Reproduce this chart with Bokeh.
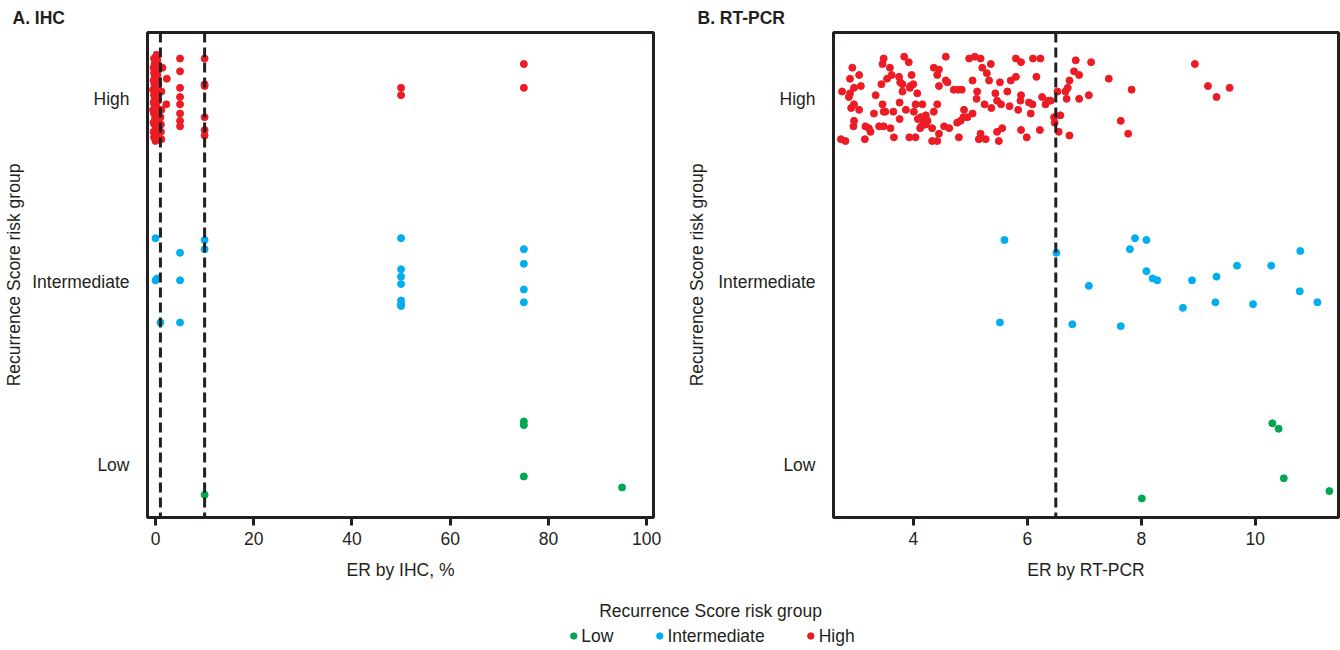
from bokeh.plotting import figure
from bokeh.layouts import column, row
from bokeh.models import Span, Legend, LegendItem, FixedTicker
from bokeh.embed import file_html
from bokeh.resources import INLINE

FONT = "Liberation Sans"
TXT = "#231F20"
RED = "#ED1C24"
BLUE = "#00AEEF"
GREEN = "#00A651"

level_ticks = [1, 2, 3]
level_labels = {1: "Low", 2: "Intermediate", 3: "High"}

ihc_ticks = [0, 20, 40, 60, 80, 100]
pcr_ticks = [4, 6, 8, 10]
ihc_cutoffs = [1, 10]
pcr_cutoffs = [6.5]

# (ER value, jittered position on the risk-group axis)
ihc_high = [
    (0.2, 3.24), (-0.3, 3.22), (0.4, 3.21), (-0.2, 3.19), (0.1, 3.19), (-0.4, 3.17),
    (0.3, 3.16), (0.0, 3.16), (-0.3, 3.14), (0.4, 3.13), (-0.1, 3.12), (0.2, 3.12),
    (-0.4, 3.10), (0.1, 3.09), (0.5, 3.08), (-0.2, 3.08), (0.3, 3.06), (-0.5, 3.05),
    (0.0, 3.04), (0.4, 3.03), (-0.3, 3.02), (0.2, 3.01), (-0.1, 3.00), (0.5, 2.99),
    (-0.4, 2.98), (0.1, 2.97), (-0.2, 2.97), (0.3, 2.95), (-0.5, 2.94), (0.0, 2.93),
    (0.4, 2.92), (-0.3, 2.92), (0.2, 2.90), (-0.1, 2.89), (0.5, 2.88), (-0.4, 2.87),
    (0.1, 2.86), (-0.2, 2.86), (0.3, 2.84), (0.0, 2.83), (-0.4, 2.82), (0.2, 2.81),
    (-0.1, 2.80), (0.4, 2.79), (-0.3, 2.79), (0.1, 2.78), (0.0, 2.77),
    (1.4, 3.17), (2.3, 3.11), (1.2, 3.04), (2.2, 2.97), (1.1, 2.86), (1.1, 2.82),
    (1.2, 2.78), (1.2, 2.94), (1.0, 2.90),
    (5, 3.22), (5, 3.15), (5, 3.06), (5, 3.01), (5, 2.97), (5, 2.92), (5, 2.88), (5, 2.85),
    (10, 3.22), (10, 3.08), (10, 3.07), (10, 2.90), (10, 2.83), (10, 2.80),
    (50, 3.06), (50, 3.02),
    (75, 3.19), (75, 3.06),
]
ihc_int = [
    (0, 2.24), (10, 2.23), (10, 2.18), (5, 2.16), (0, 2.01), (0.3, 2.02), (5, 2.01),
    (1, 1.78), (5, 1.78), (50, 2.24), (50, 2.07), (50, 2.03), (50, 1.99), (50, 1.90),
    (50, 1.88), (50, 1.87), (75, 2.18), (75, 2.10), (75, 1.96), (75, 1.89),
]
ihc_low = [(75, 1.24), (75, 1.22), (75, 0.94), (10, 0.84), (95, 0.88)]

pcr_high = [
    (2.75, 3.04), (2.73, 2.78), (2.81, 2.77), (2.93, 3.17), (2.89, 3.11), (3.05, 3.13),
    (2.96, 3.06), (3.08, 3.07), (2.89, 3.03), (2.87, 3.01), (2.96, 2.97), (2.91, 2.95),
    (3.05, 2.94), (2.96, 2.88), (2.95, 2.85), (3.16, 2.85), (3.22, 2.84), (3.25, 2.82),
    (3.15, 2.78), (3.34, 3.02), (3.31, 2.92), (3.40, 2.85), (3.48, 2.85), (3.60, 2.84),
    (3.46, 2.97), (3.48, 2.93), (3.51, 2.93), (3.66, 2.79), (3.48, 3.22), (3.46, 3.19),
    (3.59, 3.17), (3.44, 3.08), (3.54, 3.11), (3.62, 3.13), (3.65, 2.93), (3.75, 3.12),
    (3.77, 3.09), (3.81, 3.08), (3.81, 3.04), (3.76, 2.98), (3.76, 2.89), (3.84, 3.23),
    (3.92, 3.20), (3.97, 3.13), (3.95, 3.07), (4.00, 3.08), (3.94, 3.06), (4.07, 3.03),
    (3.87, 2.94), (4.04, 2.97), (4.16, 2.97), (4.01, 2.93), (3.93, 2.79), (4.04, 2.79),
    (4.13, 2.90), (4.22, 2.91), (4.08, 2.89), (4.18, 2.88), (4.25, 2.88), (4.14, 2.85),
    (4.12, 2.84), (4.22, 2.86), (4.33, 2.84), (4.33, 2.77), (4.42, 2.77), (4.45, 2.81),
    (4.36, 2.93), (4.42, 2.97), (4.36, 3.17), (4.45, 3.16), (4.42, 3.13), (4.45, 3.07),
    (4.57, 3.23), (4.57, 3.10), (4.60, 3.09), (4.54, 2.85), (4.63, 2.84), (4.71, 3.05),
    (4.79, 3.05), (4.85, 3.05), (4.80, 2.79), (4.77, 2.87), (4.83, 2.88), (4.88, 2.90),
    (4.89, 2.94), (4.95, 2.90), (5.04, 2.92), (4.98, 3.22), (5.08, 3.23), (5.18, 3.22),
    (5.04, 3.10), (5.12, 3.04), (5.11, 3.00), (5.21, 3.17), (5.29, 3.14), (5.33, 3.10),
    (5.36, 3.19), (5.25, 2.97), (5.37, 2.95), (5.18, 2.81), (5.15, 2.78), (5.27, 2.78),
    (5.47, 2.82), (5.56, 2.84), (5.50, 2.77), (5.44, 3.03), (5.52, 3.09), (5.47, 2.99),
    (5.54, 2.97), (5.65, 3.04), (5.69, 2.96), (5.71, 3.10), (5.80, 3.12), (5.80, 3.22),
    (5.89, 3.20), (5.89, 3.02), (5.88, 2.99), (5.84, 2.94), (6.03, 2.98), (6.09, 2.97),
    (6.06, 2.92), (5.89, 2.83), (5.99, 2.79), (6.10, 3.22), (6.23, 3.22), (6.16, 3.12),
    (6.26, 3.01), (6.32, 2.97), (6.37, 2.99), (6.22, 2.83),
    (6.85, 3.21), (7.12, 3.20), (6.82, 3.15), (6.91, 3.13), (6.74, 3.10), (6.53, 3.04),
    (6.67, 3.04), (6.71, 3.06), (6.69, 3.00), (6.91, 3.00), (7.08, 3.02), (6.41, 2.99),
    (7.43, 3.11), (7.83, 3.05), (8.94, 3.19), (9.17, 3.07), (9.32, 3.01), (9.55, 3.06),
    (6.47, 2.90), (6.58, 2.91), (6.48, 2.87), (7.64, 2.88), (6.55, 2.82), (6.74, 2.80),
    (7.77, 2.81),
]
pcr_int = [
    (5.60, 2.23), (6.51, 2.16), (7.08, 1.98), (5.52, 1.78), (6.79, 1.77), (7.64, 1.76),
    (7.89, 2.24), (8.09, 2.23), (7.80, 2.18), (8.09, 2.06), (8.20, 2.02), (8.28, 2.01),
    (8.89, 2.01), (9.32, 2.03), (9.68, 2.09), (10.28, 2.09), (10.79, 2.17), (10.78, 1.95),
    (11.09, 1.89), (8.73, 1.86), (9.30, 1.89), (9.96, 1.88),
]
pcr_low = [(10.30, 1.23), (10.41, 1.20), (10.50, 0.93), (11.30, 0.86), (8.01, 0.82)]

FS = "17.5px"
PANEL_H = 597


def xs_of(pts):
    return [a for a, _ in pts]


def ys_of(pts):
    return [b for _, b in pts]


def make_panel(title, xlabel, xr, ticks, cutoffs, groups, width, bl, br, title_off, ylab_standoff):
    p = figure(width=width, height=PANEL_H, x_range=xr, y_range=(0.716, 3.362),
               toolbar_location=None, output_backend="svg",
               min_border_left=bl, min_border_right=br,
               min_border_top=32, min_border_bottom=PANEL_H - 517, title=title)
    p.background_fill_color = "white"
    p.border_fill_color = "white"
    p.title.align = "left"
    p.title.offset = title_off
    p.title.standoff = 9
    p.title.text_font = FONT
    p.title.text_font_size = FS
    p.title.text_font_style = "bold"
    p.title.text_color = TXT
    p.grid.visible = False
    p.outline_line_color = TXT
    p.outline_line_width = 3

    xa = p.xaxis[0]
    xa.ticker = FixedTicker(ticks=ticks)
    xa.axis_label = xlabel
    xa.axis_line_color = None
    xa.major_tick_out = 8
    xa.major_tick_in = 0
    xa.major_tick_line_width = 3
    xa.major_tick_line_color = TXT
    xa.minor_tick_line_color = None
    xa.major_label_standoff = 6
    xa.axis_label_standoff = 12

    ya = p.yaxis[0]
    ya.ticker = FixedTicker(ticks=level_ticks)
    ya.major_label_overrides = level_labels
    ya.axis_label = "Recurrence Score risk group"
    ya.axis_line_color = None
    ya.major_tick_line_color = None
    ya.minor_tick_line_color = None
    ya.major_label_standoff = 12
    ya.axis_label_standoff = ylab_standoff

    for ax in (xa, ya):
        ax.major_label_text_font = FONT
        ax.major_label_text_font_size = FS
        ax.major_label_text_color = TXT
        ax.axis_label_text_font = FONT
        ax.axis_label_text_font_size = FS
        ax.axis_label_text_font_style = "normal"
        ax.axis_label_text_color = TXT

    for c in cutoffs:
        p.add_layout(Span(location=c, dimension="height", line_color=TXT,
                          line_width=3, line_dash="10 5"))

    for pts, col in groups:
        p.scatter(xs_of(pts), ys_of(pts), size=7, fill_color=col, line_color=col)
    return p


p1 = make_panel("A. IHC", "ER by IHC, %", (-1.63, 101.4), ihc_ticks, ihc_cutoffs,
                [(ihc_low, GREEN), (ihc_int, BLUE), (ihc_high, RED)],
                680, 147, 27, -135, 5)
p2 = make_panel("B. RT-PCR", "ER by RT-PCR", (2.6, 11.46), pcr_ticks, pcr_cutoffs,
                [(pcr_low, GREEN), (pcr_int, BLUE), (pcr_high, RED)],
                660, 153, 2, -136, 8)

# legend strip: renderers reuse the RT-PCR series, which lie outside this strip's (0, 1) ranges
p3 = figure(width=1340, height=650 - PANEL_H, x_range=(0, 1), y_range=(0, 1),
            toolbar_location=None, output_backend="svg",
            x_axis_location=None, y_axis_location=None,
            min_border_left=80, min_border_right=0, min_border_top=0, min_border_bottom=0,
            title="Recurrence Score risk group")
p3.grid.visible = False
p3.outline_line_color = None
p3.title.align = "center"
p3.title.standoff = 2
p3.title.text_font = FONT
p3.title.text_font_size = FS
p3.title.text_font_style = "normal"
p3.title.text_color = TXT

r_low = p3.scatter(xs_of(pcr_low), ys_of(pcr_low), size=7, fill_color=GREEN, line_color=GREEN)
r_int = p3.scatter(xs_of(pcr_int), ys_of(pcr_int), size=7, fill_color=BLUE, line_color=BLUE)
r_high = p3.scatter(xs_of(pcr_high), ys_of(pcr_high), size=7, fill_color=RED, line_color=RED)
legend = Legend(items=[LegendItem(label="Low", renderers=[r_low]),
                       LegendItem(label="Intermediate", renderers=[r_int]),
                       LegendItem(label="High", renderers=[r_high])],
                orientation="horizontal", location="center",
                glyph_width=16, glyph_height=16, label_standoff=0, spacing=38,
                border_line_color=None, background_fill_alpha=0, padding=0, margin=0,
                label_text_font=FONT, label_text_font_size=FS, label_text_color=TXT)
p3.add_layout(legend)

layout = column(row(p1, p2), p3)
open("out.html", "w").write(file_html(layout, INLINE))
